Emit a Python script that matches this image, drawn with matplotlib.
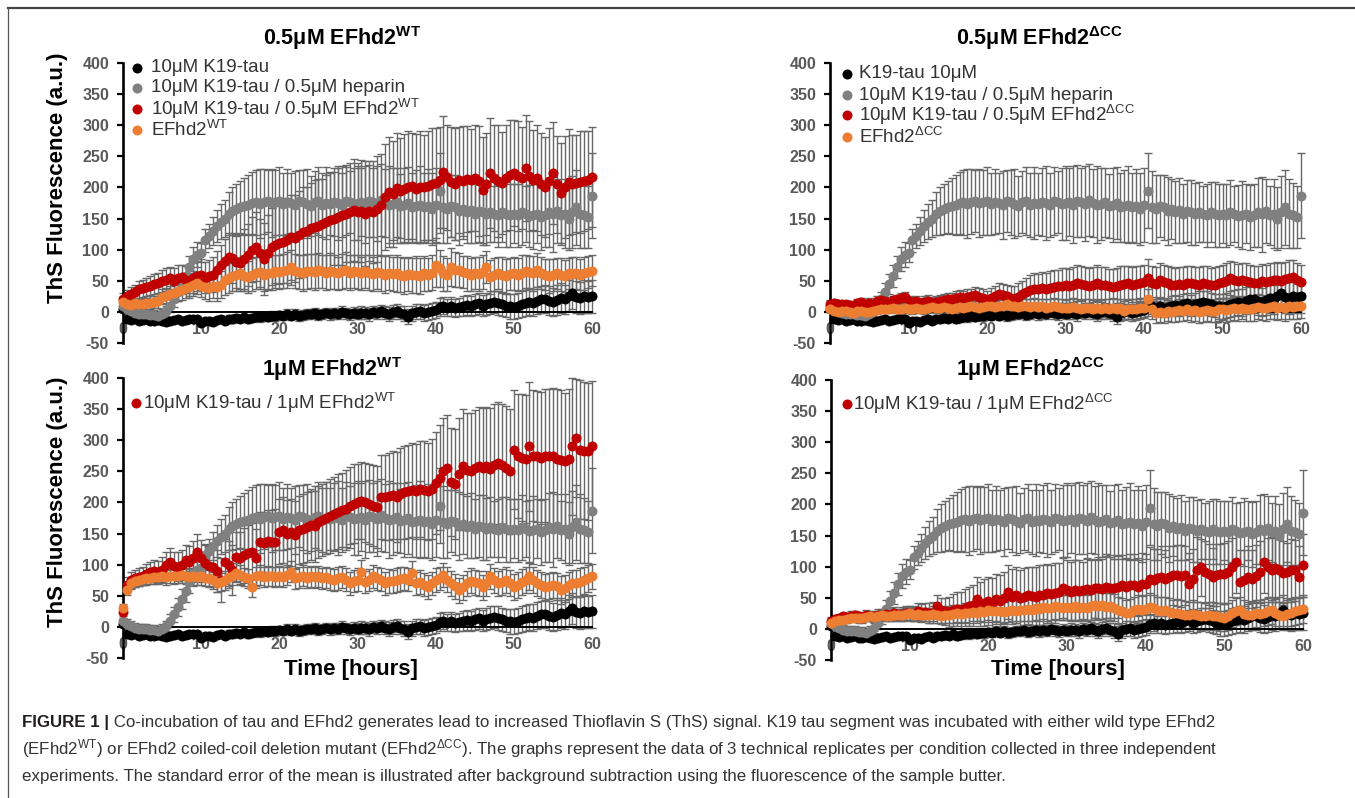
import numpy as np
import matplotlib
matplotlib.use('Agg')
import matplotlib.pyplot as plt
from matplotlib import font_manager
from matplotlib.lines import Line2D

# ---------------- data ----------------
hours = [0, 0.5, 1, 1.5, 2, 2.5, 3, 3.5, 4, 4.5, 5, 5.5, 6, 6.5, 7, 7.5, 8, 8.5, 9, 9.5,
         10, 10.5, 11, 11.5, 12, 12.5, 13, 13.5, 14, 14.5, 15, 15.5, 16, 16.5, 17, 17.5, 18, 18.5, 19, 19.5,
         20, 20.5, 21, 21.5, 22, 22.5, 23, 23.5, 24, 24.5, 25, 25.5, 26, 26.5, 27, 27.5, 28, 28.5, 29, 29.5,
         30, 30.5, 31, 31.5, 32, 32.5, 33, 33.5, 34, 34.5, 35, 35.5, 36, 36.5, 37, 37.5, 38, 38.5, 39, 39.5,
         40, 40.5, 41, 41.5, 42, 42.5, 43, 43.5, 44, 44.5, 45, 45.5, 46, 46.5, 47, 47.5, 48, 48.5, 49, 49.5,
         50, 50.5, 51, 51.5, 52, 52.5, 53, 53.5, 54, 54.5, 55, 55.5, 56, 56.5, 57, 57.5, 58, 58.5, 59, 59.5,
         60]

# 10uM K19-tau alone (shared by all panels)
k19 = [5, -12, -13, -12, -14, -13, -12, -14, -15, -13, -14, -16, -15, -13, -12, -14, -13, -12, -11, -12,
       -18, -15, -14, -16, -13, -12, -14, -11, -12, -10, -11, -9, -12, -10, -8, -9, -7, -8, -6, -7,
       -5, -6, -3, -6, -4, -7, -5, -3, -4, -2, -5, -3, -1, -4, -2, -3, 0, -2, -4, -1,
       -3, -1, -2, -4, 0, -2, 1, -1, -3, 0, 2, -1, -3, -8, -2, 0, 1, -2, 0, 2,
       3, 8, 10, 7, 9, 6, 8, 10, 11, 9, 12, 14, 10, 13, 15, 16, 14, 12, 10, 9,
       8, 10, 12, 14, 16, 15, 18, 20, 21, 18, 16, 19, 22, 20, 26, 30, 24, 22, 25, 24,
       25]
k19_err = [4, 4, 4, 4, 4, 4, 4, 4, 4, 4, 5, 5, 5, 5, 5, 5, 5, 5, 5, 5,
           5, 5, 5, 5, 5, 5, 6, 6, 6, 6, 6, 6, 6, 6, 6, 7, 7, 7, 7, 7,
           7, 7, 7, 7, 8, 8, 8, 8, 8, 8, 8, 8, 8, 9, 9, 9, 9, 9, 9, 9,
           9, 10, 10, 10, 10, 10, 10, 11, 11, 11, 11, 11, 12, 12, 12, 12, 12, 13, 13, 13,
           13, 14, 14, 14, 15, 15, 15, 16, 16, 16, 17, 17, 17, 18, 18, 18, 19, 19, 19, 20,
           20, 20, 21, 21, 21, 22, 22, 22, 23, 23, 23, 24, 24, 24, 25, 25, 25, 26, 26, 26,
           26]

# 10uM K19-tau / 0.5uM heparin (shared by all panels)
heparin = [10, 4, 1, -2, -3, -4, -4, -5, -5, -6, -3, 2, 10, 20, 32, 45, 58, 72, 85, 92,
           95, 115, 122, 130, 138, 145, 150, 158, 162, 165, 168, 170, 172, 175, 176, 174, 177, 178, 175, 176,
           178, 174, 177, 175, 172, 178, 176, 174, 170, 176, 178, 172, 175, 173, 177, 175, 172, 178, 176, 174,
           175, 177, 172, 178, 176, 174, 180, 175, 172, 174, 176, 170, 172, 175, 168, 170, 172, 168, 170, 165,
           172, 195, 168, 165, 170, 168, 162, 165, 160, 163, 158, 162, 160, 157, 160, 158, 155, 160, 157, 155,
           158, 155, 160, 157, 154, 156, 158, 152, 155, 160, 157, 162, 155, 158, 150, 160, 168, 158, 155, 152,
           187]
heparin_err = [8, 8, 8, 8, 8, 8, 8, 8, 8, 8, 8, 8, 10, 12, 14, 16, 18, 18, 20, 20,
               15, 18, 20, 22, 25, 28, 30, 35, 38, 40, 42, 45, 48, 50, 52, 55, 52, 50, 55, 52,
               55, 50, 52, 48, 55, 50, 52, 55, 48, 50, 55, 52, 58, 50, 55, 60, 52, 55, 50, 58,
               60, 55, 62, 58, 55, 60, 58, 55, 62, 58, 55, 52, 60, 58, 55, 58, 62, 55, 60, 58,
               60, 60, 58, 55, 50, 52, 55, 48, 50, 52, 48, 50, 52, 50, 48, 45, 50, 48, 52, 50,
               48, 50, 52, 45, 50, 55, 48, 52, 50, 55, 60, 52, 48, 55, 50, 58, 60, 55, 52, 50,
               68]

# 0.5uM EFhd2 WT panel
red_05wt = [21, 25, 28, 32, 36, 38, 40, 42, 45, 46, 50, 52, 54, 50, 55, 56, 52, 48, 55, 58,
            60, 55, 58, 60, 68, 75, 82, 88, 86, 80, 78, 85, 92, 100, 105, 95, 85, 95, 105, 108,
            110, 112, 115, 120, 118, 124, 128, 130, 135, 137, 138, 142, 145, 147, 150, 153, 155, 158, 160, 164,
            160, 162, 158, 162, 160, 165, 172, 185, 193, 190, 199, 195, 198, 200, 202, 198, 201, 200, 203, 205,
            207, 212, 225, 216, 209, 205, 212, 210, 214, 212, 215, 210, 196, 205, 223, 215, 210, 207, 215, 220,
            223, 218, 215, 231, 218, 212, 215, 205, 201, 210, 223, 205, 191, 200, 209, 205, 207, 209, 210, 212,
            217]
red_05wt_err = [10, 10, 12, 12, 14, 14, 15, 15, 16, 16, 18, 18, 18, 20, 20, 20, 22, 22, 24, 24,
                25, 25, 26, 28, 30, 32, 35, 38, 40, 42, 45, 48, 50, 52, 55, 55, 58, 60, 62, 62,
                65, 65, 68, 68, 70, 70, 72, 70, 72, 75, 75, 72, 75, 78, 75, 78, 80, 78, 80, 82,
                80, 82, 85, 80, 82, 85, 82, 85, 88, 85, 88, 85, 88, 90, 85, 88, 90, 85, 88, 90,
                88, 85, 90, 85, 88, 90, 85, 88, 85, 82, 85, 88, 85, 82, 88, 85, 90, 82, 85, 88,
                85, 88, 82, 85, 88, 80, 85, 82, 80, 85, 82, 78, 80, 82, 85, 80, 78, 82, 80, 78,
                80]
orange_05wt = [16, 12, 11, 14, 13, 12, 14, 15, 16, 18, 24, 26, 28, 30, 33, 35, 38, 40, 44, 46,
               42, 40, 38, 42, 40, 44, 51, 55, 58, 60, 62, 58, 56, 60, 62, 64, 60, 62, 63, 65,
               64, 66, 68, 72, 66, 64, 63, 65, 66, 64, 67, 65, 63, 66, 64, 62, 65, 67, 63, 65,
               64, 62, 65, 63, 61, 64, 62, 60, 63, 61, 62, 60, 58, 61, 59, 60, 58, 62, 60, 63,
               75, 70, 62, 60, 72, 68, 67, 64, 62, 60, 62, 61, 64, 72, 56, 60, 62, 60, 58, 61,
               62, 60, 63, 65, 64, 62, 67, 63, 60, 58, 59, 62, 60, 58, 62, 61, 63, 60, 62, 64,
               66]
orange_05wt_err = [8, 8, 8, 8, 8, 9, 9, 10, 10, 11, 12, 12, 13, 14, 15, 16, 16, 17, 18, 18,
                   18, 19, 20, 20, 22, 22, 24, 24, 25, 26, 26, 25, 26, 27, 26, 28, 27, 26, 28, 27,
                   28, 27, 29, 28, 27, 28, 29, 28, 27, 29, 28, 27, 28, 29, 28, 27, 28, 29, 28, 27,
                   28, 27, 26, 28, 27, 28, 29, 30, 28, 27, 30, 28, 29, 27, 28, 30, 29, 28, 27, 28,
                   35, 30, 28, 27, 30, 28, 27, 26, 28, 27, 26, 28, 27, 26, 28, 27, 26, 28, 27, 26,
                   27, 26, 28, 27, 26, 28, 27, 26, 25, 27, 26, 25, 27, 26, 25, 27, 26, 25, 27, 26,
                   25]

# 0.5uM EFhd2 dCC panel
red_05cc = [13, 14, 13, 12, 12, 11, 10, 14, 16, 13, 15, 12, 18, 19, 17, 15, 19, 20, 22, 24,
            18, 16, 17, 15, 16, 18, 15, 16, 17, 19, 21, 20, 22, 24, 22, 24, 25, 27, 24, 22,
            19, 22, 25, 29, 27, 25, 22, 21, 24, 28, 32, 35, 37, 36, 38, 37, 39, 40, 41, 42,
            43, 41, 44, 46, 45, 43, 42, 44, 46, 44, 43, 41, 40, 42, 44, 45, 46, 44, 45, 46,
            48, 55, 46, 45, 51, 48, 46, 44, 43, 45, 44, 46, 46, 45, 44, 47, 45, 43, 44, 46,
            48, 50, 54, 52, 49, 51, 50, 48, 47, 46, 49, 48, 50, 52, 52, 50, 53, 55, 56, 52,
            48]
red_05cc_err = [6, 6, 6, 6, 6, 6, 6, 6, 6, 6, 7, 7, 7, 7, 7, 7, 7, 7, 8, 8,
                8, 8, 8, 8, 9, 9, 9, 9, 10, 10, 10, 10, 11, 11, 11, 12, 12, 13, 14, 15,
                15, 16, 17, 18, 18, 19, 20, 21, 22, 22, 23, 24, 25, 25, 26, 26, 27, 27, 27, 28,
                28, 28, 28, 29, 28, 29, 28, 28, 29, 28, 29, 28, 29, 28, 29, 28, 27, 28, 29, 28,
                28, 30, 28, 27, 28, 28, 27, 28, 28, 27, 28, 27, 28, 27, 28, 27, 28, 27, 28, 28,
                27, 28, 27, 28, 28, 27, 28, 28, 27, 28, 28, 27, 28, 27, 28, 28, 27, 28, 28, 27,
                27]
orange_05cc = [5, 2, 0, 1, 2, 0, -1, 1, 2, 0, 0, 2, 3, 4, 5, 4, 6, 5, 4, 6,
               5, 4, 6, 5, 4, 6, 8, 7, 6, 8, 7, 5, 6, 8, 7, 8, 9, 8, 7, 8,
               9, 10, 8, 9, 10, 12, 10, 9, 8, 10, 9, 8, 10, 8, 9, 7, 8, 10, 8, 7,
               6, 7, 8, 6, 5, 7, 6, 5, 6, 4, 6, 5, 7, 5, 6, 2, 5, 4, 5, 6,
               7, 20, 4, -2, 0, -1, 2, 0, 1, 3, 2, 4, 1, 3, 0, 2, 3, 1, 2, 4,
               5, 3, 4, 6, 5, 7, 4, 5, 6, 8, 7, 6, 8, 9, 7, 8, 6, 9, 8, 9,
               10]
orange_05cc_err = [5, 5, 5, 5, 5, 5, 5, 5, 5, 5, 6, 6, 6, 6, 6, 6, 6, 6, 7, 7,
                   7, 7, 7, 7, 7, 8, 8, 8, 8, 8, 8, 8, 9, 9, 9, 9, 9, 9, 10, 10,
                   10, 10, 10, 10, 11, 11, 11, 11, 11, 12, 12, 12, 12, 12, 12, 13, 13, 13, 13, 13,
                   13, 13, 14, 14, 14, 14, 14, 14, 15, 15, 15, 15, 15, 15, 15, 15, 16, 16, 16, 16,
                   16, 16, 16, 16, 16, 17, 17, 17, 17, 17, 17, 17, 18, 18, 18, 18, 18, 18, 18, 18,
                   18, 19, 19, 19, 19, 19, 19, 19, 20, 20, 20, 20, 20, 20, 20, 20, 20, 20, 20, 20,
                   20]

# 1uM EFhd2 WT panel
red_1wt = [24, 68, 75, 78, 80, 82, 85, 88, 90, 88, 92, 100, 105, 98, 97, 100, 107, 104, 110, 121,
           110, 102, 98, 97, 90, 75, 105, 100, 91, 113, 110, 115, 118, 121, 110, 137, 135, 138, 136, 137,
           153, 155, 150, 152, 148, 156, 158, 160, 164, 162, 168, 172, 175, 178, 182, 185, 188, 190, 195, 198,
           201, 203, 200, 198, 195, 193, 209, 208, 210, 212, 209, 214, 216, 218, 220, 218, 222, 220, 218, 222,
           231, 240, 250, 255, 233, 230, 245, 258, 252, 250, 255, 258, 256, 258, 254, 260, 263, 260, 255, 250,
           285, 275, 272, 270, 290, 275, 274, 272, 275, 274, 274, 270, 268, 266, 270, 290, 303, 285, 283, 282,
           290]
red_1wt_err = [10, 12, 14, 14, 15, 15, 16, 16, 18, 18, 20, 20, 22, 22, 24, 24, 25, 26, 28, 28,
               30, 30, 32, 33, 34, 35, 36, 38, 40, 40, 42, 44, 45, 46, 48, 48, 50, 50, 52, 52,
               52, 53, 54, 54, 55, 55, 56, 56, 57, 57, 58, 58, 58, 59, 59, 60, 60, 62, 62, 63,
               60, 62, 63, 64, 65, 66, 67, 68, 70, 70, 72, 73, 74, 75, 75, 76, 77, 78, 78, 80,
               82, 84, 85, 86, 87, 88, 90, 92, 92, 93, 94, 95, 96, 96, 97, 98, 98, 99, 100, 100,
               95, 100, 102, 103, 104, 105, 105, 106, 107, 108, 110, 112, 112, 110, 113, 110, 95, 112, 110, 110,
               105]
orange_1wt = [30, 59, 70, 73, 75, 77, 78, 79, 80, 80, 81, 80, 82, 81, 82, 83, 82, 80, 81, 80,
              81, 79, 78, 75, 70, 72, 75, 80, 82, 87, 84, 80, 78, 64, 81, 83, 80, 82, 81, 80,
              82, 80, 84, 89, 78, 80, 82, 79, 81, 80, 81, 78, 80, 77, 75, 78, 80, 76, 70, 74,
              76, 89, 72, 75, 81, 78, 76, 70, 74, 73, 75, 77, 78, 76, 87, 70, 72, 68, 64, 70,
              75, 78, 83, 76, 70, 65, 59, 64, 70, 74, 72, 70, 64, 70, 81, 75, 70, 72, 75, 70,
              64, 68, 72, 76, 81, 75, 70, 68, 64, 66, 67, 65, 59, 62, 67, 70, 70, 72, 75, 78,
              81]
orange_1wt_err = [6, 8, 8, 9, 9, 10, 10, 10, 11, 11, 11, 12, 12, 12, 12, 13, 13, 13, 13, 13,
                  13, 14, 14, 14, 14, 14, 15, 15, 15, 15, 15, 15, 15, 16, 16, 16, 16, 16, 16, 16,
                  16, 16, 16, 17, 17, 17, 17, 17, 17, 17, 17, 17, 17, 18, 18, 18, 18, 18, 18, 18,
                  18, 18, 18, 18, 18, 18, 18, 18, 19, 19, 19, 19, 19, 19, 19, 19, 19, 19, 19, 19,
                  19, 19, 19, 20, 20, 20, 20, 20, 20, 20, 20, 20, 20, 20, 20, 20, 20, 21, 21, 21,
                  21, 21, 21, 21, 21, 21, 21, 21, 21, 21, 21, 22, 22, 22, 22, 22, 22, 22, 22, 22,
                  20]

# 1uM EFhd2 dCC panel
red_1cc = [13, 16, 18, 20, 19, 21, 22, 20, 18, 22, 20, 21, 23, 22, 24, 23, 25, 22, 24, 26,
           25, 24, 28, 26, 27, 25, 26, 36, 30, 28, 27, 30, 32, 30, 34, 36, 38, 48, 40, 42,
           45, 42, 48, 45, 50, 59, 52, 55, 50, 52, 54, 53, 52, 54, 55, 57, 56, 58, 60, 66,
           62, 60, 62, 61, 62, 64, 63, 65, 66, 64, 67, 66, 65, 68, 70, 68, 70, 71, 67, 72,
           72, 80, 78, 82, 83, 80, 84, 86, 86, 85, 86, 72, 80, 95, 99, 92, 88, 83, 86, 89,
           89, 92, 99, 107, 75, 78, 83, 80, 85, 92, 107, 99, 95, 98, 94, 90, 91, 94, 94, 83,
           102]
red_1cc_err = [6, 6, 6, 6, 7, 7, 7, 7, 8, 8, 8, 8, 9, 9, 9, 10, 10, 10, 11, 11,
               12, 12, 13, 14, 15, 16, 17, 18, 20, 22, 24, 26, 28, 30, 30, 32, 33, 35, 36, 38,
               38, 40, 40, 42, 42, 43, 44, 45, 45, 46, 46, 47, 47, 48, 48, 48, 47, 48, 46, 48,
               48, 47, 48, 49, 46, 49, 48, 47, 50, 48, 50, 49, 47, 50, 48, 46, 50, 49, 47, 50,
               48, 52, 50, 47, 50, 46, 50, 48, 49, 50, 47, 50, 48, 52, 46, 50, 49, 47, 50, 48,
               49, 50, 47, 50, 52, 48, 50, 46, 50, 49, 50, 47, 52, 48, 50, 51, 47, 50, 49, 50,
               50]
orange_1cc = [10, 12, 14, 15, 16, 17, 18, 17, 18, 19, 20, 19, 21, 22, 20, 21, 22, 23, 22, 24,
              25, 23, 24, 22, 23, 22, 24, 22, 21, 23, 22, 24, 25, 24, 26, 25, 27, 26, 28, 27,
              30, 28, 29, 28, 27, 29, 30, 28, 31, 30, 32, 31, 33, 32, 35, 33, 34, 36, 35, 34,
              35, 34, 36, 33, 35, 34, 36, 38, 37, 38, 35, 36, 34, 30, 28, 25, 26, 30, 32, 31,
              32, 35, 33, 30, 29, 30, 27, 25, 26, 24, 23, 22, 24, 22, 21, 20, 22, 21, 20, 19,
              18, 20, 25, 28, 30, 24, 22, 23, 25, 24, 26, 28, 30, 26, 22, 20, 24, 26, 28, 30,
              32]
orange_1cc_err = [5, 5, 5, 6, 6, 6, 6, 7, 7, 7, 7, 8, 8, 8, 8, 9, 9, 9, 10, 10,
                  10, 10, 11, 11, 11, 12, 12, 12, 13, 13, 13, 14, 14, 14, 15, 15, 15, 16, 16, 16,
                  16, 17, 17, 17, 17, 18, 18, 18, 18, 18, 19, 19, 19, 19, 19, 20, 20, 20, 20, 20,
                  20, 20, 21, 21, 21, 21, 21, 21, 22, 22, 22, 22, 22, 22, 22, 22, 22, 22, 22, 22,
                  22, 22, 22, 22, 22, 22, 22, 22, 22, 22, 22, 22, 22, 22, 22, 22, 22, 22, 22, 22,
                  22, 22, 22, 22, 22, 22, 22, 22, 22, 22, 22, 22, 22, 22, 22, 22, 22, 22, 22, 22,
                  22]

titles = ['0.5μM EFhd2$^{\\mathbf{WT}}$', '0.5μM EFhd2$^{\\mathbf{ΔCC}}$',
          '1μM EFhd2$^{\\mathbf{WT}}$', '1μM EFhd2$^{\\mathbf{ΔCC}}$']
legend_p1 = ['10μM K19-tau', '10μM K19-tau / 0.5μM heparin',
             '10μM K19-tau / 0.5μM EFhd2$^{\\mathrm{WT}}$', 'EFhd2$^{\\mathrm{WT}}$']
legend_p2 = ['K19-tau 10μM', '10μM K19-tau / 0.5μM heparin',
             '10μM K19-tau / 0.5μM EFhd2$^{\\mathrm{ΔCC}}$', 'EFhd2$^{\\mathrm{ΔCC}}$']
legend_p3 = ['10μM K19-tau / 1μM EFhd2$^{\\mathrm{WT}}$']
legend_p4 = ['10μM K19-tau / 1μM EFhd2$^{\\mathrm{ΔCC}}$']
y_ticks = [-50, 0, 50, 100, 150, 200, 250, 300, 350, 400]
x_ticks = [0, 10, 20, 30, 40, 50, 60]

for arr in [k19, k19_err, heparin, heparin_err, red_05wt, red_05wt_err, orange_05wt, orange_05wt_err,
            red_05cc, red_05cc_err, orange_05cc, orange_05cc_err, red_1wt, red_1wt_err, orange_1wt,
            orange_1wt_err, red_1cc, red_1cc_err, orange_1cc, orange_1cc_err]:
    assert len(arr) == len(hours), len(arr)

# ---------------- style ----------------
plt.rcParams['font.family'] = ['Liberation Sans', 'DejaVu Sans']
plt.rcParams['mathtext.fontset'] = 'custom'
plt.rcParams['mathtext.rm'] = 'Liberation Sans'
plt.rcParams['mathtext.bf'] = 'Liberation Sans:bold'
plt.rcParams['mathtext.it'] = 'Liberation Sans:italic'
plt.rcParams['mathtext.sf'] = 'Liberation Sans'
plt.rcParams['axes.unicode_minus'] = False

C_BLACK, C_GRAY, C_RED, C_ORANGE = '#000000', '#808080', '#c00000', '#ed7d31'
C_ERR = '#686868'
TICK_COL = '#595959'
MS = 7.2

W, H = 1355, 798
fig = plt.figure(figsize=(W / 100, H / 100), dpi=100)


def add_axes_px(x0, x1, ytop, ybot):
    return fig.add_axes([x0 / W, 1 - ybot / H, (x1 - x0) / W, (ybot - ytop) / H])


def draw_panel(ax, series, title, title_xy, legend_labels, legend_colors, leg_rows, leg_mx, leg_tx):
    for y, e, c in series:
        cont = ax.errorbar(hours, y, yerr=e, fmt='none', ecolor=C_ERR, elinewidth=1.0,
                           capsize=3, capthick=1.0, zorder=2)
        for art in list(cont.lines[1]) + list(cont.lines[2]):
            art.set_clip_on(False)
    for k, (y, e, c) in enumerate(series):
        ax.plot(hours, y, 'o', color=c, ms=MS, mec='none', zorder=3 + k, clip_on=False)

    ax.set_xlim(0, 60)
    ax.set_ylim(-50, 400)
    ax.set_yticks(y_ticks)
    ax.set_xticks(x_ticks)
    for s in ['top', 'right']:
        ax.spines[s].set_visible(False)
    ax.spines['left'].set_linewidth(1.9)
    ax.spines['bottom'].set_position(('data', 0))
    ax.spines['bottom'].set_linewidth(1.4)
    ax.tick_params(axis='y', direction='out', length=4, width=1.6, pad=6,
                   labelsize=11.5, labelcolor=TICK_COL)
    ax.tick_params(axis='x', length=0, pad=7, labelsize=11.5, labelcolor=TICK_COL)
    for lab in ax.get_xticklabels() + ax.get_yticklabels():
        lab.set_fontweight('bold')
    ax.patch.set_alpha(0)

    ax.text(title_xy[0], title_xy[1], title, ha='center', va='baseline',
            fontsize=15.5, fontweight='bold', color='black', clip_on=False)

    for lab, col, ry in zip(legend_labels, legend_colors, leg_rows):
        ax.plot([leg_mx], [ry], 'o', color=col, ms=MS, mec='none', clip_on=False, zorder=10)
        ax.text(leg_tx, ry, lab, ha='left', va='center', fontsize=13.5, color='#333333', zorder=10)


base = [(k19, k19_err, C_BLACK), (heparin, heparin_err, C_GRAY)]

ax1 = add_axes_px(123, 592, 63, 343)
draw_panel(ax1, base + [(red_05wt, red_05wt_err, C_RED), (orange_05wt, orange_05wt_err, C_ORANGE)],
           titles[0], (28.0, 429), legend_p1, [C_BLACK, C_GRAY, C_RED, C_ORANGE],
           [392, 360, 326, 292], 1.8, 3.6)

ax2 = add_axes_px(830, 1301, 63, 343)
draw_panel(ax2, base + [(red_05cc, red_05cc_err, C_RED), (orange_05cc, orange_05cc_err, C_ORANGE)],
           titles[1], (26.7, 429), legend_p2, [C_BLACK, C_GRAY, C_RED, C_ORANGE],
           [383, 348, 316, 281], 2.2, 3.7)

ax3 = add_axes_px(123, 592, 378, 658)
draw_panel(ax3, base + [(red_1wt, red_1wt_err, C_RED), (orange_1wt, orange_1wt_err, C_ORANGE)],
           titles[2], (26.75, 404), legend_p3, [C_RED], [360], 1.6, 2.5)

ax4 = add_axes_px(831, 1303, 380, 660)
draw_panel(ax4, base + [(red_1cc, red_1cc_err, C_RED), (orange_1cc, orange_1cc_err, C_ORANGE)],
           titles[3], (25.4, 406), legend_p4, [C_RED], [362], 2.0, 2.8)

# axis labels
for yc in (178, 502):
    fig.text(57 / W, 1 - yc / H, 'ThS Fluorescence (a.u.)', rotation=90, ha='center', va='center',
             fontsize=16, fontweight='bold', color='black')
for xc in (351, 1058):
    fig.text(xc / W, 1 - 670 / H, 'Time [hours]', ha='center', va='center',
             fontsize=16, fontweight='bold', color='black')

# frame lines
fig.add_artist(Line2D([8 / W, 1], [1 - 8 / H, 1 - 8 / H], transform=fig.transFigure,
                      color='#444444', lw=1.6))
fig.add_artist(Line2D([8 / W, 8 / W], [0, 1 - 8 / H], transform=fig.transFigure,
                      color='#555555', lw=0.9))

# caption
names = {f.name for f in font_manager.fontManager.ttflist}
cap_family = ['Liberation Sans Narrow', 'Liberation Sans'] if 'Liberation Sans Narrow' in names else ['Liberation Sans']
renderer = fig.canvas.get_renderer()

cap1_bold = 'FIGURE 1 |'
cap1_rest = ' Co-incubation of tau and EFhd2 generates lead to increased Thioflavin S (ThS) signal. K19 tau segment was incubated with either wild type EFhd2'
cap2 = '(EFhd2$^{\\mathrm{WT}}$) or EFhd2 coiled-coil deletion mutant (EFhd2$^{\\mathrm{ΔCC}}$). The graphs represent the data of 3 technical replicates per condition collected in three independent'
cap3 = 'experiments. The standard error of the mean is illustrated after background subtraction using the fluorescence of the sample butter.'

t3 = fig.text(22 / W, 1 - 776 / H, cap3, fontsize=10, family=cap_family, va='center', color='#333333')
w3 = t3.get_window_extent(renderer).width
fs = 10 * (1003 - 22) / w3
t3.set_fontsize(fs)
t2 = fig.text(22 / W, 1 - 749 / H, cap2, fontsize=fs, family=cap_family, va='center', color='#333333')
tb = fig.text(22 / W, 1 - 722 / H, cap1_bold, fontsize=fs, family=cap_family, fontweight='bold',
              va='center', color='#231f20')
wb = tb.get_window_extent(renderer).width
fig.text((22 + wb) / W, 1 - 722 / H, cap1_rest, fontsize=fs, family=cap_family, va='center',
         color='#333333')

fig.savefig('out.png', dpi=100)
